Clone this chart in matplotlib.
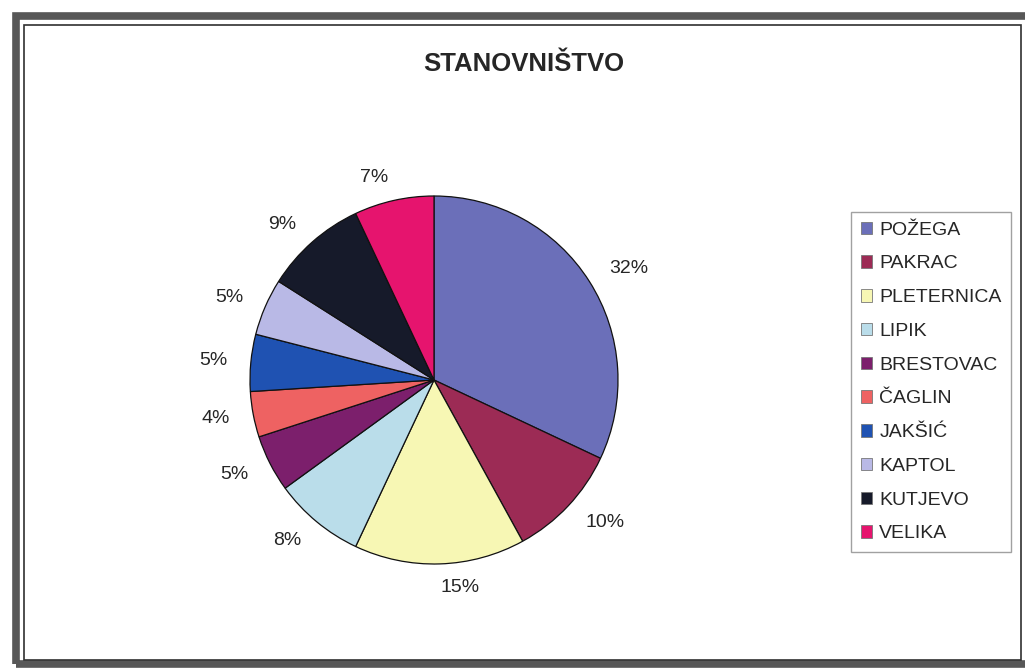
import matplotlib
matplotlib.use("Agg")
import matplotlib.pyplot as plt
from matplotlib.patches import Rectangle, Patch

plt.rcParams['font.family'] = ['Liberation Sans', 'DejaVu Sans']

# population share by town (%)
towns = ['POŽEGA', 'PAKRAC', 'PLETERNICA', 'LIPIK', 'BRESTOVAC',
         'ČAGLIN', 'JAKŠIĆ', 'KAPTOL', 'KUTJEVO', 'VELIKA']
shares = [32, 10, 15, 8, 5, 4, 5, 5, 9, 7]
colors = ['#6B6FB9', '#9C2B55', '#F7F7B4', '#BADDEA', '#7C1F6C',
          '#EE6262', '#1F52B2', '#B9B9E6', '#161A2A', '#E6146E']

W, H = 1025, 671
fig = plt.figure(figsize=(W / 100, H / 100), dpi=100)
fig.patch.set_facecolor('white')


def px(x0, y0, x1, y1):
    # pixel box (top-left origin) -> figure fraction rect
    return [x0 / W, 1 - y1 / H, (x1 - x0) / W, (y1 - y0) / H]


# chart frame
r = px(16, 16, 1034, 664)
fig.patches.append(Rectangle((r[0], r[1]), r[2], r[3], transform=fig.transFigure,
                             fill=False, lw=5.5, edgecolor='#575757'))
r = px(24, 25, 1021, 660)
fig.patches.append(Rectangle((r[0], r[1]), r[2], r[3], transform=fig.transFigure,
                             fill=False, lw=1.2, edgecolor='#303030'))

# pie
cx, cy, R = 434, 380, 184
lim = 1.3
half = R * lim
ax = fig.add_axes(px(cx - half, cy - half, cx + half, cy + half))
wedges, texts = ax.pie(shares, colors=colors, startangle=90, counterclock=False,
                       labels=[f'{v}%' for v in shares], labeldistance=1.13,
                       wedgeprops=dict(edgecolor='#111111', linewidth=0.9),
                       textprops=dict(fontsize=14, color='#262626'))
ax.set_xlim(-lim, lim)
ax.set_ylim(-lim, lim)
ax.set_aspect('equal')
ax.axis('off')

fig.text(524 / W, 1 - 64 / H, 'STANOVNIŠTVO', ha='center', va='center',
         fontsize=18.5, fontweight='bold', color='#262626')

handles = [Patch(facecolor=c, edgecolor='#777777', linewidth=0.6) for c in colors]
leg = fig.legend(handles, towns, loc='upper left',
                 bbox_to_anchor=(851 / W, 1 - 212 / H), fontsize=14,
                 frameon=True, fancybox=False, handlelength=0.6, handleheight=0.6,
                 handletextpad=0.35, labelspacing=0.86, borderpad=0.5,
                 borderaxespad=0)
leg.get_frame().set_edgecolor('#8a8a8a')
leg.get_frame().set_linewidth(1.0)
for t in leg.get_texts():
    t.set_color('#262626')

fig.savefig('out.png', dpi=100)
